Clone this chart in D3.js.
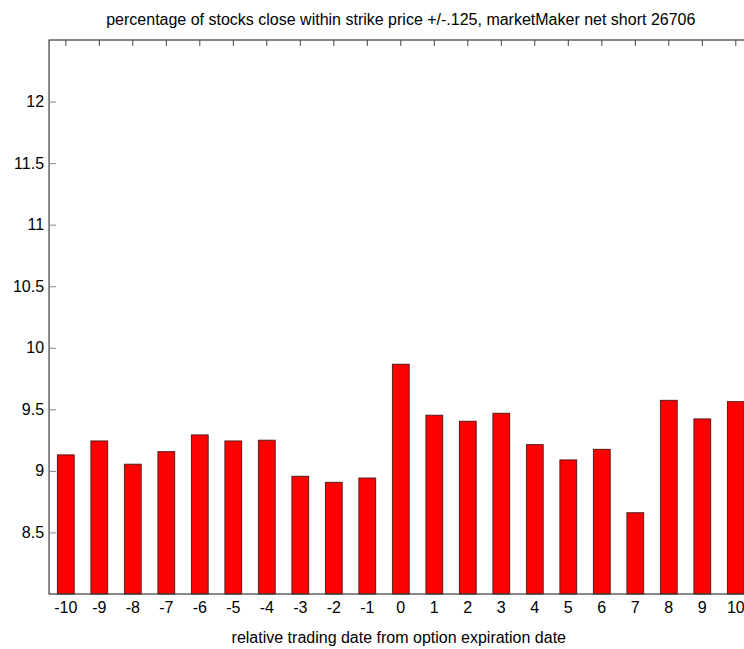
<!DOCTYPE html>
<html><head><meta charset="utf-8">
<script src="https://cdn.jsdelivr.net/npm/d3@7"></script>
<style>body{margin:0;background:#fff;overflow:hidden}svg{display:block}</style>
</head><body>
<script>
const categories = [-10,-9,-8,-7,-6,-5,-4,-3,-2,-1,0,1,2,3,4,5,6,7,8,9,10];
const values = [9.13,9.243,9.054,9.156,9.292,9.243,9.249,8.956,8.907,8.942,9.866,9.452,9.403,9.468,9.213,9.089,9.175,8.660,9.573,9.422,9.562];
const yTicks = [8.5,9,9.5,10,10.5,11,11.5,12];
const titleText = "percentage of stocks close within strike price +/-.125, marketMaker net short 26706";
const xLabel = "relative trading date from option expiration date";

(function(){
const W = 744, H = 649;
const pL = 49.05, step = 33.5, pR = pL + 21*step, pT = 40, pB = 594;
const font = "'Liberation Sans', Arial, sans-serif";
const fs = 16;

const svg = d3.select("body").append("svg").attr("width", W).attr("height", H);

const x = d3.scaleBand().domain(categories).range([pL, pR]).paddingInner(0.5).paddingOuter(0.25);
const y = d3.scaleLinear().domain([8, 12.5]).range([pB, pT]);

// bars
svg.append("g").selectAll("rect").data(values).join("rect")
  .attr("x", (d,i) => x(categories[i]))
  .attr("y", d => y(d))
  .attr("width", x.bandwidth())
  .attr("height", d => y(8) - y(d))
  .attr("fill", "#ff0000")
  .attr("stroke", "#5a1a1a")
  .attr("stroke-width", 1);

// box
svg.append("rect").attr("x", pL).attr("y", pT).attr("width", pR-pL).attr("height", pB-pT)
  .attr("fill", "none").attr("stroke", "#3a3a3a").attr("stroke-width", 1.2);

// left axis ticks + labels
svg.append("g").attr("transform", `translate(${pL},0)`)
  .call(d3.axisRight(y).tickValues(yTicks).tickSize(7).tickFormat(""))
  .call(g => g.select(".domain").remove())
  .call(g => g.selectAll("line").attr("stroke", "#888"));
svg.append("g").selectAll("text").data(yTicks).join("text")
  .attr("x", pL - 5).attr("y", d => y(d)).attr("dy", "0.35em")
  .attr("text-anchor", "end").attr("font-family", font).attr("font-size", fs).attr("fill", "#000")
  .text(d => String(d));

// right axis ticks
svg.append("g").attr("transform", `translate(${pR},0)`)
  .call(d3.axisLeft(y).tickValues(yTicks).tickSize(7).tickFormat(""))
  .call(g => g.select(".domain").remove())
  .call(g => g.selectAll("line").attr("stroke", "#888"));

// top ticks
svg.append("g").attr("transform", `translate(0,${pT})`)
  .call(d3.axisBottom(x).tickSize(6).tickFormat(""))
  .call(g => g.select(".domain").remove())
  .call(g => g.selectAll("line").attr("stroke", "#444"));

// bottom labels
svg.append("g").attr("transform", `translate(0,${pB})`)
  .call(d3.axisBottom(x).tickSize(0).tickPadding(10))
  .call(g => g.select(".domain").remove())
  .call(g => g.selectAll("text").attr("font-family", font).attr("font-size", fs).attr("fill", "#000").attr("y", 19).attr("dy", "0"));

// title
svg.append("text").attr("x", (pL+pR)/2).attr("y", 25).attr("text-anchor", "middle")
  .attr("font-family", font).attr("font-size", fs).attr("fill", "#000").text(titleText);
// x label
svg.append("text").attr("x", (pL+pR)/2 - 2).attr("y", 643).attr("text-anchor", "middle")
  .attr("font-family", font).attr("font-size", fs).attr("fill", "#000").text(xLabel);
})();
</script>
</body></html>
